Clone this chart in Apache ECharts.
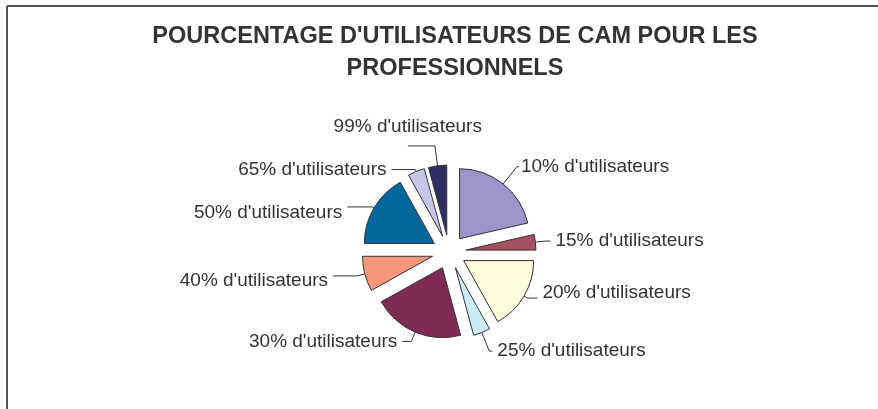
<!DOCTYPE html>
<html>
<head>
<meta charset="utf-8">
<script src="https://cdn.jsdelivr.net/npm/echarts@6/dist/echarts.min.js"></script>
<style>
  html, body { margin: 0; padding: 0; background: #fff; }
  #chart { width: 878px; height: 409px; }
</style>
</head>
<body>
<div id="chart"></div>
<script>
// catégories (dans l'ordre horaire, à partir de midi)
const categories = [
  "10% d'utilisateurs", "15% d'utilisateurs", "20% d'utilisateurs",
  "25% d'utilisateurs", "30% d'utilisateurs", "40% d'utilisateurs",
  "50% d'utilisateurs", "65% d'utilisateurs", "99% d'utilisateurs"
];
// parts (en %)
const shares = [21.4, 3.6, 16.9, 3.9, 21.1, 8.1, 16.9, 3.9, 4.2];
const colors = ["#9b95c9", "#a3505f", "#fffadc", "#ccebf8", "#7f2c55",
                "#f4967a", "#02679a", "#c8c6e6", "#2f2f63"];
const titleText = "POURCENTAGE D'UTILISATEURS DE CAM POUR LES\nPROFESSIONNELS";

// longueurs des traits de rappel, par part
const lineLen = [22, 10, 4, 20, 10, 8, 2, 2, 20];
const lineLen2 = [2, 5, 10, 3, 9, 24, 25, 24, 27];
const labelGap = [2, 5, 5, 5, 5, 5, 5, 5, 5];
// petits décalages du texte (dx, dy) ; « 99% » passe au-dessus de son trait
const labelShift = [[0, 0], [0, 0], [0, -5], [0, 0], [0, 0], [0, 5], [0, 6], [0, 0], [79, -19]];

const chart = echarts.init(document.getElementById("chart"));

chart.setOption({
  backgroundColor: "#fff",
  animation: false,
  title: {
    text: titleText,
    left: 450,
    top: 16,
    textAlign: "center",
    textStyle: {
      fontFamily: "Liberation Sans, Arial",
      fontWeight: "bold",
      fontSize: 23.5,
      lineHeight: 32,
      color: "#333"
    }
  },
  graphic: [
    { type: "line", shape: { x1: 7, y1: 6, x2: 878, y2: 6 }, style: { stroke: "#555", lineWidth: 2 } },
    { type: "line", shape: { x1: 7, y1: 6, x2: 7, y2: 409 }, style: { stroke: "#555", lineWidth: 2 } }
  ],
  series: [
    {
      type: "pie",
      center: [449, 252],
      radius: 70,
      startAngle: 90,
      clockwise: true,
      selectedMode: "multiple",
      selectedOffset: 17,
      avoidLabelOverlap: false,
      itemStyle: { borderColor: "#333", borderWidth: 1 },
      label: {
        show: true,
        formatter: "{b}",
        fontFamily: "Liberation Sans, Arial",
        fontSize: 19,
        color: "#333"
      },
      labelLine: {
        show: true,
        lineStyle: { color: "#333", width: 1 }
      },
      labelLayout: function (params) {
        const s = labelShift[params.dataIndex];
        return { dx: s[0], dy: s[1] };
      },
      emphasis: { disabled: true },
      data: categories.map((name, i) => ({
        name: name,
        value: shares[i],
        selected: true,
        itemStyle: { color: colors[i] },
        label: { distanceToLabelLine: labelGap[i] },
        labelLine: { length: lineLen[i], length2: lineLen2[i] }
      }))
    }
  ]
});
</script>
</body>
</html>
